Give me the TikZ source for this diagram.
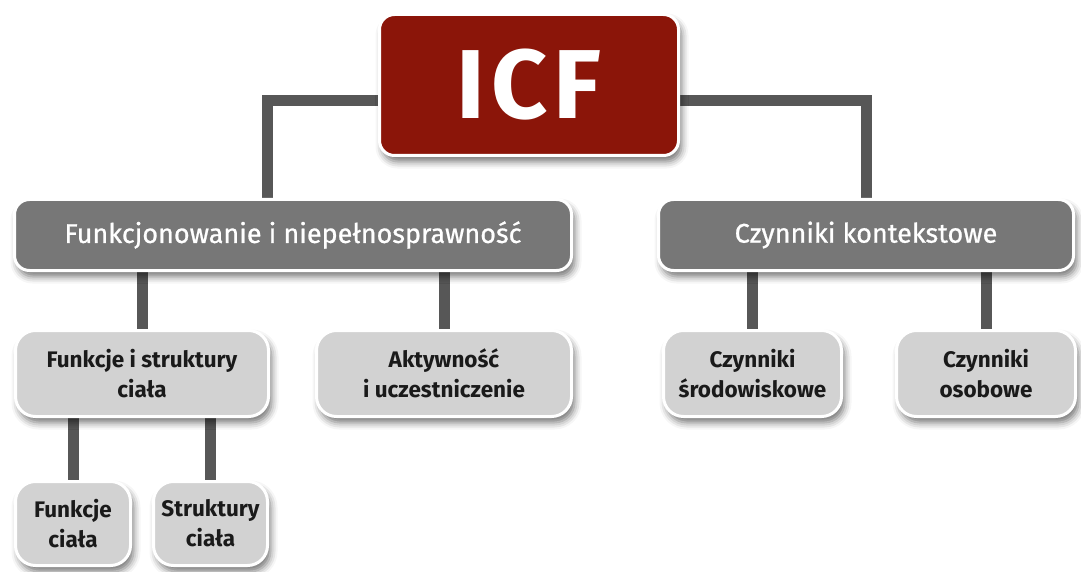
\documentclass[tikz,border=0pt]{standalone}
\usepackage{fontspec}
\setmainfont{Fira Sans}
\usetikzlibrary{shadows.blur}
\definecolor{icfred}{HTML}{8B1509}
\definecolor{midgray}{HTML}{777777}
\definecolor{lightgray}{HTML}{D2D2D2}
\definecolor{linegray}{HTML}{575757}
\definecolor{textdark}{HTML}{1A1A1A}
\pgfdeclarelayer{bg}
\pgfsetlayers{bg,main}
\begin{document}
\begin{tikzpicture}[x=1pt,y=-1pt,
  box/.style={draw=white, line width=3pt, inner sep=0pt, align=center,
    blur shadow={shadow xshift=3pt, shadow yshift=-6pt, shadow blur radius=7pt, shadow opacity=55}},
  topbox/.style={box, fill=icfred, rounded corners=15pt, text=white,
    font=\fontsize{98}{98}\selectfont\bfseries\addfontfeatures{LetterSpace=6}},
  midbox/.style={box, fill=midgray, rounded corners=15pt, text=white,
    font=\fontsize{27}{30}\selectfont\addfontfeatures{FakeBold=0.8}},
  lowbox/.style={box, fill=lightgray, rounded corners=20pt, text=textdark,
    font=\fontsize{22.5}{30}\selectfont\bfseries},
  conn/.style={draw=linegray, line width=11pt, line cap=butt}]
\useasboundingbox (0,0) rectangle (1081,572);

\node[topbox, minimum width=299pt, minimum height=141pt] (icf) at (529,85) {ICF};
\node[midbox, minimum width=557pt, minimum height=71pt] (fn) at (293,235) {Funkcjonowanie i niepełnosprawność};
\node[midbox, minimum width=415pt, minimum height=71pt] (ck) at (866,235) {Czynniki kontekstowe};
\node[lowbox, minimum width=253pt, minimum height=86pt] (fsc) at (142,373.5) {Funkcje i struktury\\ciała};
\node[lowbox, minimum width=255pt, minimum height=86pt] (au) at (444,373.5) {Aktywność\\i uczestniczenie};
\node[lowbox, minimum width=178pt, minimum height=86pt] (cs) at (752.5,373.5) {Czynniki\\środowiskowe};
\node[lowbox, minimum width=179pt, minimum height=86pt] (co) at (986,373.5) {Czynniki\\osobowe};
\node[lowbox, minimum width=115pt, minimum height=84pt] (fc) at (73,523.5) {Funkcje\\ciała};
\node[lowbox, minimum width=114pt, minimum height=84pt] (sc) at (210.5,523.5) {Struktury\\ciała};

\begin{pgfonlayer}{bg}
\draw[conn] ([yshift=-16pt]icf.west) -| ([xshift=-25.5pt]fn.north);
\draw[conn] ([yshift=-16pt]icf.east) -| (ck.north);
\draw[conn] (fsc.north) -- (fsc.north |- fn.south);
\draw[conn] (au.north) -- (au.north |- fn.south);
\draw[conn] (cs.north) -- (cs.north |- ck.south);
\draw[conn] (co.north) -- (co.north |- ck.south);
\draw[conn] (fc.north) -- (fc.north |- fsc.south);
\draw[conn] (sc.north) -- (sc.north |- fsc.south);
\end{pgfonlayer}
\end{tikzpicture}
\end{document}
